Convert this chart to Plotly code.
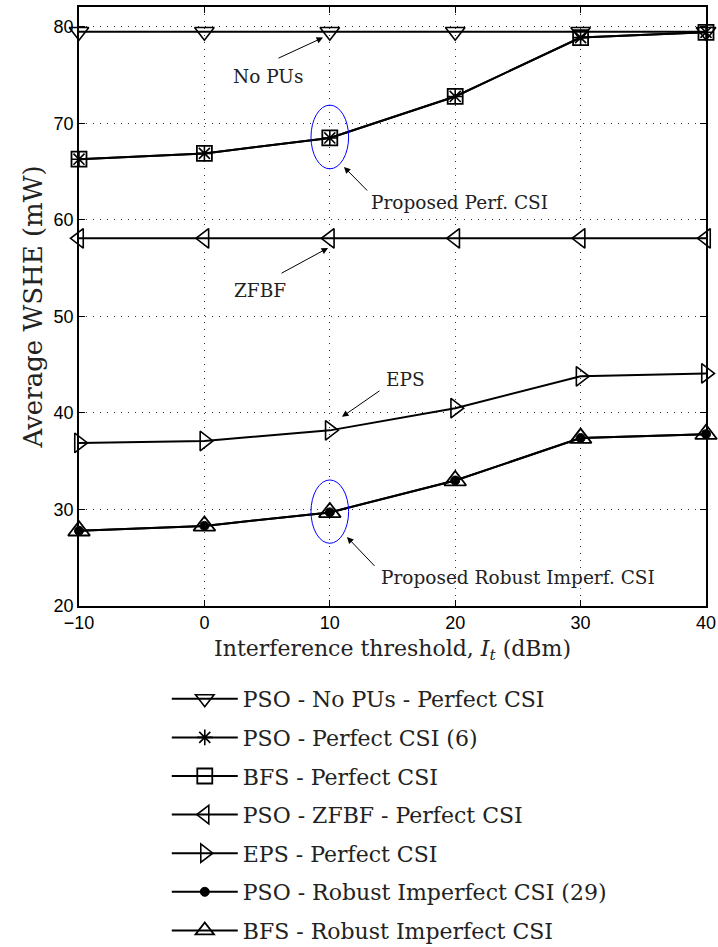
import plotly.graph_objects as go

x_vals = [-10, 0, 10, 20, 30, 40]
no_pus = [79.5, 79.5, 79.5, 79.5, 79.5, 79.5]
pso_perf = [66.3, 66.9, 68.5, 72.8, 78.9, 79.45]
bfs_perf = [66.3, 66.9, 68.5, 72.8, 78.9, 79.45]
zfbf = [58.1, 58.1, 58.1, 58.1, 58.1, 58.1]
eps = [36.9, 37.1, 38.2, 40.5, 43.8, 44.1]
pso_robust = [27.8, 28.3, 29.7, 33.0, 37.4, 37.8]
bfs_robust = [27.8, 28.3, 29.7, 33.0, 37.4, 37.8]

names = ["PSO - No PUs - Perfect CSI", "PSO - Perfect CSI (6)", "BFS - Perfect CSI",
         "PSO - ZFBF - Perfect CSI", "EPS - Perfect CSI",
         "PSO - Robust Imperfect CSI (29)", "BFS - Robust Imperfect CSI"]

SERIF = "DejaVu Serif"
SANS = "Liberation Sans"

series = [
    (no_pus, "triangle-down-open", 17, 1.6),
    (pso_perf, "asterisk-open", 13, 1.6),
    (bfs_perf, "square-open", 15, 1.8),
    (zfbf, "triangle-left-open", 17, 1.6),
    (eps, "triangle-right-open", 17, 1.6),
    (pso_robust, "circle", 9, 1),
    (bfs_robust, "triangle-up-open", 19, 1.8),
]

fig = go.Figure()
for i, (yv, sym, sz, lw) in enumerate(series):
    fig.add_trace(go.Scatter(
        x=x_vals, y=yv, name=names[i], mode="lines+markers",
        line=dict(color="black", width=2),
        marker=dict(symbol=sym, size=sz, color="black", line=dict(color="black", width=lw)),
        legendgroup=str(i), cliponaxis=False,
    ))

# ellipses
fig.add_shape(type="circle", xref="x", yref="y", x0=8.5, x1=11.5, y0=65.3, y1=71.9,
              line=dict(color="blue", width=1))
fig.add_shape(type="circle", xref="x", yref="y", x0=8.5, x1=11.5, y0=26.5, y1=33.06,
              line=dict(color="blue", width=1))

ann = [
    ("No PUs", 5.07, 74.9, 5.79, 76.7, 9.46, 78.9),
    ("Proposed Perf. CSI", 20.38, 61.8, 13.1, 62.9, 11.13, 65.5),
    ("ZFBF", 4.43, 52.7, 6.03, 54.4, 9.86, 57.1),
    ("EPS", 16.0, 43.5, 14.08, 42.4, 10.97, 39.6),
    ("Proposed Robust Imperf. CSI", 25.0, 23.0, 13.68, 24.0, 11.37, 27.15),
]
for t, tx, ty, ax_, ay_, hx, hy in ann:
    fig.add_annotation(x=tx, y=ty, text=t, showarrow=False, xref="x", yref="y",
                       font=dict(family=SERIF, size=18.5, color="#222"))
    fig.add_annotation(x=hx, y=hy, ax=ax_, ay=ay_, xref="x", yref="y", axref="x", ayref="y",
                       text="", showarrow=True, arrowhead=2, arrowsize=1.3, arrowwidth=1,
                       arrowcolor="black")

axis_common = dict(showline=True, linecolor="black", linewidth=1.5, mirror="ticks",
                   ticks="inside", ticklen=6, tickcolor="black", automargin=False,
                   showgrid=True, gridcolor="#333", griddash="1px,6px", gridwidth=1,
                   zeroline=False, tickfont=dict(family=SANS, size=18, color="black"))

fig.update_xaxes(range=[-10, 40], tickvals=[-10, 0, 10, 20, 30, 40],
                 title=dict(text="Interference threshold, <i>I</i><sub><i>t</i></sub> (dBm)",
                            font=dict(family=SERIF, size=22, color="#222"), standoff=8),
                 **axis_common)
fig.update_yaxes(range=[20, 82.07], tickvals=[20, 30, 40, 50, 60, 70, 80],
                 title=dict(text="Average WSHE (mW)", font=dict(family=SERIF, size=26, color="#222"),
                            standoff=4),
                 **axis_common)

fig.update_layout(
    width=718, height=947,
    margin=dict(l=79, r=12, t=7, b=341, autoexpand=False),
    plot_bgcolor="white", paper_bgcolor="white",
    legend=dict(x=0.14, y=-0.1202, xanchor="left", yanchor="top",
                font=dict(family=SERIF, size=22, color="#222"),
                bgcolor="rgba(0,0,0,0)", tracegroupgap=7, itemwidth=66),
)

fig.write_html("out.html")
